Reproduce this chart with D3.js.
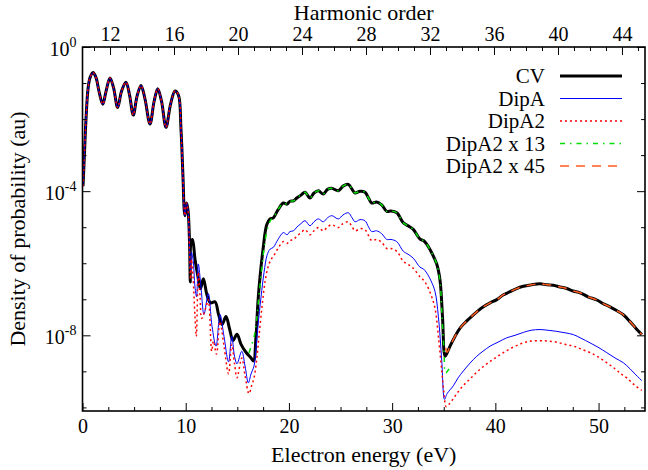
<!DOCTYPE html>
<html><head><meta charset="utf-8">
<script src="https://cdn.jsdelivr.net/npm/d3@7"></script>
<style>
body{margin:0;background:#fff}
svg text{font-family:"Liberation Serif","Times New Roman",Tinos,"DejaVu Serif","Noto Serif",Times,serif !important;fill:#000}
</style>
</head><body>
<svg id="c" width="648" height="470"></svg>
<script>
// ---- data: [electron energy (eV), log10(density of probability)] ----
const firstPlateau = [[0.05,-3.86],[0.15,-3.23],[0.34,-2.0],[0.53,-1.18],[0.73,-0.85],[1.02,-0.71],[1.31,-0.85],[1.6,-1.23],[1.96,-1.59],[2.28,-1.23],[2.66,-0.86],[3.0,-1.12],[3.41,-1.68],[3.78,-1.23],[4.21,-0.98],[4.55,-1.32],[4.92,-1.89],[5.28,-1.37],[5.67,-1.07],[6.06,-1.45],[6.54,-2.14],[6.93,-1.52],[7.29,-1.16],[7.66,-1.51],[8.09,-2.23],[8.53,-1.59],[8.96,-1.22],[9.3,-1.34],[9.54,-2.27],[9.74,-3.64],[9.86,-4.55],[9.93,-4.68],[10.08,-4.33],[10.22,-4.52]];

const cvRest = [[10.37,-5.42],[10.44,-6.52],[10.51,-5.42],[10.66,-5.34],[10.9,-5.89],[11.19,-6.38],[11.43,-6.71],[11.71,-6.43],[12.06,-6.88],[12.4,-7.10],[12.84,-7.07],[13.18,-7.42],[13.52,-7.7],[13.9,-7.48],[14.24,-7.81],[14.58,-8.14],[14.97,-7.97],[15.36,-8.25],[15.84,-8.47],[16.33,-8.63],[16.57,-8.71],[16.81,-8.03],[17.0,-7.07],[17.2,-6.38],[17.49,-5.62],[17.85,-4.93],[18.17,-4.77],
[18.49,-4.74],[18.94,-4.52],[19.46,-4.33],[19.82,-4.36],[20.1,-4.28],[20.45,-4.27],[20.76,-4.19],[21.17,-4.11],[21.56,-4.03],[22.04,-4.19],[22.43,-4.05],[22.85,-3.99],[23.33,-4.08],[23.74,-3.95],[24.15,-3.92],[24.79,-3.99],[25.24,-3.86],[25.76,-3.81],[26.12,-3.95],[26.41,-4.05],[26.89,-4.0],[27.37,-4.03],[27.71,-4.19],[28.02,-4.33],[28.49,-4.30],[28.99,-4.38],[29.48,-4.56],[29.89,-4.55],[30.45,-4.60],[31.09,-4.88],[31.54,-4.96],[32.05,-5.06],[32.70,-5.33],[33.04,-5.37],[33.35,-5.47],[33.87,-5.73],[34.32,-6.02],[34.64,-6.47],[34.88,-7.48],[35.13,-8.58],
[35.32,-8.49],[35.61,-8.3],[36.09,-8.03],[36.58,-7.8],[37.16,-7.62],[37.87,-7.43],[38.32,-7.32],[38.84,-7.21],[39.49,-7.10],[40.14,-7.01],[40.75,-6.88],[41.42,-6.79],[42.0,-6.71],[42.71,-6.64],[43.46,-6.60],[44.33,-6.57],[45.01,-6.60],[45.62,-6.61],[46.27,-6.66],[46.92,-6.70],[47.53,-6.77],[48.21,-6.82],[48.98,-6.93],[49.83,-7.02],[50.44,-7.12],[51.11,-7.21],[51.79,-7.32],[52.4,-7.43],[53.05,-7.62],[53.63,-7.81],[54.19,-7.98]];

const dipARest = [[10.37,-5.56],[10.47,-6.25],[10.56,-5.70],[10.71,-5.89],[10.9,-6.66],[11.05,-6.93],[11.22,-6.02],[11.48,-6.66],[11.77,-7.42],[12.19,-6.84],[12.55,-7.75],[12.94,-8.30],[13.32,-7.42],[13.71,-8.03],[14.15,-8.74],[14.46,-8.03],[14.73,-8.58],[14.97,-8.79],[15.43,-8.44],[15.75,-8.85],[16.07,-9.32],[16.33,-9.07],[16.62,-8.85],[16.81,-8.36],[17.0,-7.75],[17.3,-6.93],[17.59,-6.25],[17.88,-5.78],[18.17,-5.61],
[18.49,-5.56],[18.94,-5.34],[19.46,-5.15],[19.82,-5.21],[20.1,-5.12],[20.45,-5.10],[20.76,-5.0],[21.17,-4.90],[21.56,-4.82],[22.04,-4.96],[22.43,-4.85],[22.85,-4.77],[23.33,-4.85],[23.74,-4.74],[24.15,-4.68],[24.79,-4.77],[25.24,-4.66],[25.76,-4.60],[26.12,-4.74],[26.41,-4.85],[26.89,-4.79],[27.37,-4.82],[27.71,-4.99],[28.02,-5.12],[28.49,-5.10],[28.99,-5.18],[29.48,-5.34],[29.89,-5.34],[30.45,-5.40],[31.09,-5.67],[31.54,-5.75],[32.05,-5.86],[32.70,-6.11],[33.04,-6.16],[33.35,-6.27],[33.77,-6.49],[34.16,-6.79],[34.48,-7.48],[34.81,-8.71],[35.08,-9.78],
[35.32,-9.62],[35.93,-9.40],[36.39,-9.18],[36.9,-8.99],[37.55,-8.77],[38.2,-8.58],[38.81,-8.44],[39.49,-8.30],[40.26,-8.19],[41.1,-8.07],[41.91,-8.0],[42.71,-7.92],[43.46,-7.86],[44.33,-7.84],[45.11,-7.86],[45.95,-7.89],[46.75,-7.93],[47.56,-7.98],[48.3,-8.08],[49.18,-8.21],[49.95,-8.33],[50.79,-8.48],[51.6,-8.63],[52.4,-8.76],[53.05,-8.93],[53.63,-9.10],[54.19,-9.26]];

const dipA2Rest = [[10.37,-5.70],[10.47,-6.44],[10.56,-5.89],[10.71,-6.38],[10.9,-7.48],[11.03,-8.03],[11.22,-6.25],[11.39,-6.93],[11.55,-7.53],[11.97,-7.21],[12.19,-7.01],[12.52,-8.44],[12.69,-8.16],[12.98,-8.52],[13.32,-7.62],[13.71,-8.30],[14.15,-9.07],[14.46,-8.25],[14.73,-8.79],[14.97,-9.18],[15.43,-8.63],[15.75,-9.12],[16.13,-9.62],[16.38,-9.40],[16.62,-9.18],[16.86,-8.71],[17.1,-8.03],[17.39,-7.21],[17.68,-6.52],[17.97,-6.11],[18.27,-5.89],
[18.49,-5.81],[18.94,-5.59],[19.46,-5.40],[19.82,-5.45],[20.1,-5.37],[20.45,-5.34],[20.76,-5.25],[21.17,-5.15],[21.56,-5.07],[22.04,-5.21],[22.43,-5.10],[22.85,-5.01],[23.33,-5.10],[23.74,-4.99],[24.15,-4.93],[24.79,-5.01],[25.24,-4.90],[25.76,-4.85],[26.12,-4.99],[26.41,-5.10],[26.89,-5.04],[27.37,-5.07],[27.71,-5.23],[28.02,-5.37],[28.49,-5.34],[28.99,-5.42],[29.48,-5.59],[29.89,-5.59],[30.45,-5.67],[31.09,-5.95],[31.54,-6.03],[32.05,-6.14],[32.70,-6.38],[33.04,-6.47],[33.35,-6.60],[33.77,-6.88],[34.16,-7.26],[34.48,-8.03],[34.81,-8.99],[35.03,-9.62],[35.23,-9.98],
[35.45,-9.93],[35.8,-9.81],[36.26,-9.62],[36.87,-9.40],[37.55,-9.21],[38.32,-8.99],[39.17,-8.79],[39.97,-8.63],[40.78,-8.48],[41.71,-8.33],[42.71,-8.21],[43.46,-8.16],[44.33,-8.15],[45.11,-8.16],[45.95,-8.19],[46.75,-8.25],[47.56,-8.30],[48.3,-8.38],[49.18,-8.48],[49.95,-8.60],[50.79,-8.76],[51.6,-8.93],[52.18,-9.07],[52.73,-9.18],[53.44,-9.37],[54.19,-9.53]];

const dipA2x13 = [[16.13,-8.49],[16.38,-8.27],[16.62,-8.05],[16.86,-7.59],[17.1,-6.9],[17.39,-6.08],[17.68,-5.40],[17.97,-4.99],[18.27,-4.79],
[18.49,-4.74],[18.94,-4.52],[19.46,-4.33],[19.82,-4.36],[20.1,-4.28],[20.45,-4.27],[20.76,-4.19],[21.17,-4.11],[21.56,-4.03],[22.04,-4.19],[22.43,-4.05],[22.85,-3.99],[23.33,-4.08],[23.74,-3.95],[24.15,-3.92],[24.79,-3.99],[25.24,-3.86],[25.76,-3.81],[26.12,-3.95],[26.41,-4.05],[26.89,-4.0],[27.37,-4.03],[27.71,-4.19],[28.02,-4.33],[28.49,-4.30],[28.99,-4.38],[29.48,-4.56],[29.89,-4.55],[30.45,-4.60],[31.09,-4.88],[31.54,-4.96],[32.05,-5.06],[32.70,-5.33],[33.04,-5.37],[33.35,-5.47],[33.87,-5.73],[34.32,-6.02],[34.64,-6.52],[34.83,-7.48],[35.03,-8.44],[35.17,-9.04],[35.37,-8.99],[35.66,-8.85]];

const dipA2x45 = [[35.2,-8.35],[35.32,-8.47],[35.61,-8.3],[36.09,-8.03],[36.58,-7.8],[37.16,-7.62],[37.87,-7.43],[38.32,-7.32],[38.84,-7.21],[39.49,-7.10],[40.14,-7.01],[40.75,-6.88],[41.42,-6.79],[42.0,-6.71],[42.71,-6.64],[43.46,-6.60],[44.33,-6.57],[45.01,-6.60],[45.62,-6.61],[46.27,-6.66],[46.92,-6.70],[47.53,-6.77],[48.21,-6.82],[48.98,-6.93],[49.83,-7.02],[50.44,-7.12],[51.11,-7.21],[51.79,-7.32],[52.4,-7.43],[53.05,-7.62],[53.63,-7.81],[54.19,-7.98]];

const energyTicks = [0,10,20,30,40,50];
const energyMinorTicks = [2.5,5,7.5,12.5,15,17.5,22.5,25,27.5,32.5,35,37.5,42.5,45,47.5,52.5];
const harmonicTicks = [12,16,20,24,28,32,36,40,44];
const harmonicMinorTicks = [11,13,14,15,17,18,19,21,22,23,25,26,27,29,30,31,33,34,35,37,38,39,41,42,43,45];
const densityExponents = [0,-4,-8];
const densityMinorExponents = [-1,-2,-3,-5,-6,-7,-9,-10];

const seriesNames = ["CV","DipA","DipA2","DipA2 x 13","DipA2 x 45"];

// ---- layout ----
const SERIF = '"Liberation Serif","Times New Roman",Tinos,"DejaVu Serif","Noto Serif",Times,serif';
const L = 82.5, R = 645, T = 47, B = 411;
const svg = d3.select("#c");
const x = d3.scaleLinear().domain([0, 54.5]).range([L, R]);
const xTop = d3.scaleLinear().domain([10.28, 45.44]).range([L, R]);
const y = d3.scaleLog().domain([Math.pow(10,-10.1), 1]).range([B, T]);

const series = [
  {name: seriesNames[0], data: firstPlateau.concat(cvRest), color:"#000", width:3, dash:null},
  {name: seriesNames[1], data: firstPlateau.concat(dipARest), color:"#0000ff", width:1, dash:null},
  {name: seriesNames[2], data: firstPlateau.concat(dipA2Rest), color:"#ff0000", width:1.5, dash:"2,3"},
  {name: seriesNames[3], data: dipA2x13, color:"#00dd00", width:1.5, dash:"5,5,1.5,5"},
  {name: seriesNames[4], data: dipA2x45, color:"#ff5a1e", width:1.5, dash:"9,7"}
];

svg.append("defs").append("clipPath").attr("id","clip")
  .append("rect").attr("x",L).attr("y",T).attr("width",R-L).attr("height",B-T);

const line = d3.line()
  .x(d => x(d[0]))
  .y(d => y(Math.pow(10, d[1])))
  .curve(d3.curveCatmullRom.alpha(0.5));

const g = svg.append("g").attr("clip-path","url(#clip)");
series.forEach(s => {
  g.append("path").datum(s.data)
    .attr("d", line)
    .attr("fill","none")
    .attr("stroke", s.color)
    .attr("stroke-width", s.width)
    .attr("stroke-dasharray", s.dash)
    .attr("stroke-linejoin","round");
});

// ---- axes ----
const fontTick = 20;
function styleAxis(sel){
  sel.attr("font-family", SERIF);
  sel.select(".domain").remove();
  sel.selectAll(".tick line").attr("stroke","#000").attr("stroke-width",1);
  sel.selectAll(".tick text").attr("font-size",fontTick).attr("font-family",SERIF).attr("fill","#000");
}
// bottom
svg.append("g").attr("transform",`translate(0,${B})`)
  .call(d3.axisBottom(x).tickValues(energyTicks).tickSize(-8).tickPadding(8).tickFormat(d3.format("d")))
  .call(styleAxis);
svg.append("g").attr("transform",`translate(0,${B})`)
  .call(d3.axisBottom(x).tickValues(energyMinorTicks).tickSize(-4).tickFormat(""))
  .call(styleAxis);
// top
svg.append("g").attr("transform",`translate(0,${T})`)
  .call(d3.axisTop(xTop).tickValues(harmonicTicks).tickSize(-8).tickPadding(6).tickFormat(d3.format("d")))
  .call(styleAxis);
svg.append("g").attr("transform",`translate(0,${T})`)
  .call(d3.axisTop(xTop).tickValues(harmonicMinorTicks).tickSize(-4).tickFormat(""))
  .call(styleAxis);
// left
const yl = svg.append("g").attr("transform",`translate(${L},0)`)
  .call(d3.axisLeft(y).tickValues(densityExponents.map(e=>Math.pow(10,e))).tickSize(-8).tickPadding(6).tickFormat(""))
  .call(styleAxis);
yl.selectAll(".tick").each(function(d){
  const e = Math.round(Math.log10(d));
  const t = d3.select(this).select("text").attr("dy","0.4em");
  t.append("tspan").text("10");
  t.append("tspan").attr("dy","-0.6em").attr("font-size",14).text(String(e));
});
svg.append("g").attr("transform",`translate(${L},0)`)
  .call(d3.axisLeft(y).tickValues(densityMinorExponents.map(e=>Math.pow(10,e))).tickSize(-4).tickFormat(""))
  .call(styleAxis);
// right
svg.append("g").attr("transform",`translate(${R},0)`)
  .call(d3.axisRight(y).tickValues(densityExponents.map(e=>Math.pow(10,e))).tickSize(-8).tickFormat(""))
  .call(styleAxis);
svg.append("g").attr("transform",`translate(${R},0)`)
  .call(d3.axisRight(y).tickValues(densityMinorExponents.map(e=>Math.pow(10,e))).tickSize(-4).tickFormat(""))
  .call(styleAxis);

// frame
svg.append("rect").attr("x",L).attr("y",T).attr("width",R-L).attr("height",B-T)
  .attr("fill","none").attr("stroke","#000").attr("stroke-width",1.6);

// titles
function title(){ return svg.append("text").attr("font-family",SERIF).attr("font-size",22).attr("text-anchor","middle"); }
title().attr("x",(L+R)/2).attr("y",20).text("Harmonic order");
title().attr("x",(L+R)/2).attr("y",462).text("Electron energy (eV)");
title().attr("transform",`translate(25,${(T+B)/2}) rotate(-90)`).text("Density of probability (au)");

// legend
const leg = svg.append("g");
series.forEach((s,i) => {
  const yy = 76 + i*22.5;
  leg.append("text").attr("x",545).attr("y",yy).attr("dy","0.35em").attr("text-anchor","end")
    .attr("font-family",SERIF).attr("font-size",21).text(s.name);
  leg.append("line").attr("x1",560).attr("x2",622).attr("y1",yy).attr("y2",yy)
    .attr("stroke",s.color).attr("stroke-width",s.width).attr("stroke-dasharray",s.dash);
});
</script>
</body></html>
